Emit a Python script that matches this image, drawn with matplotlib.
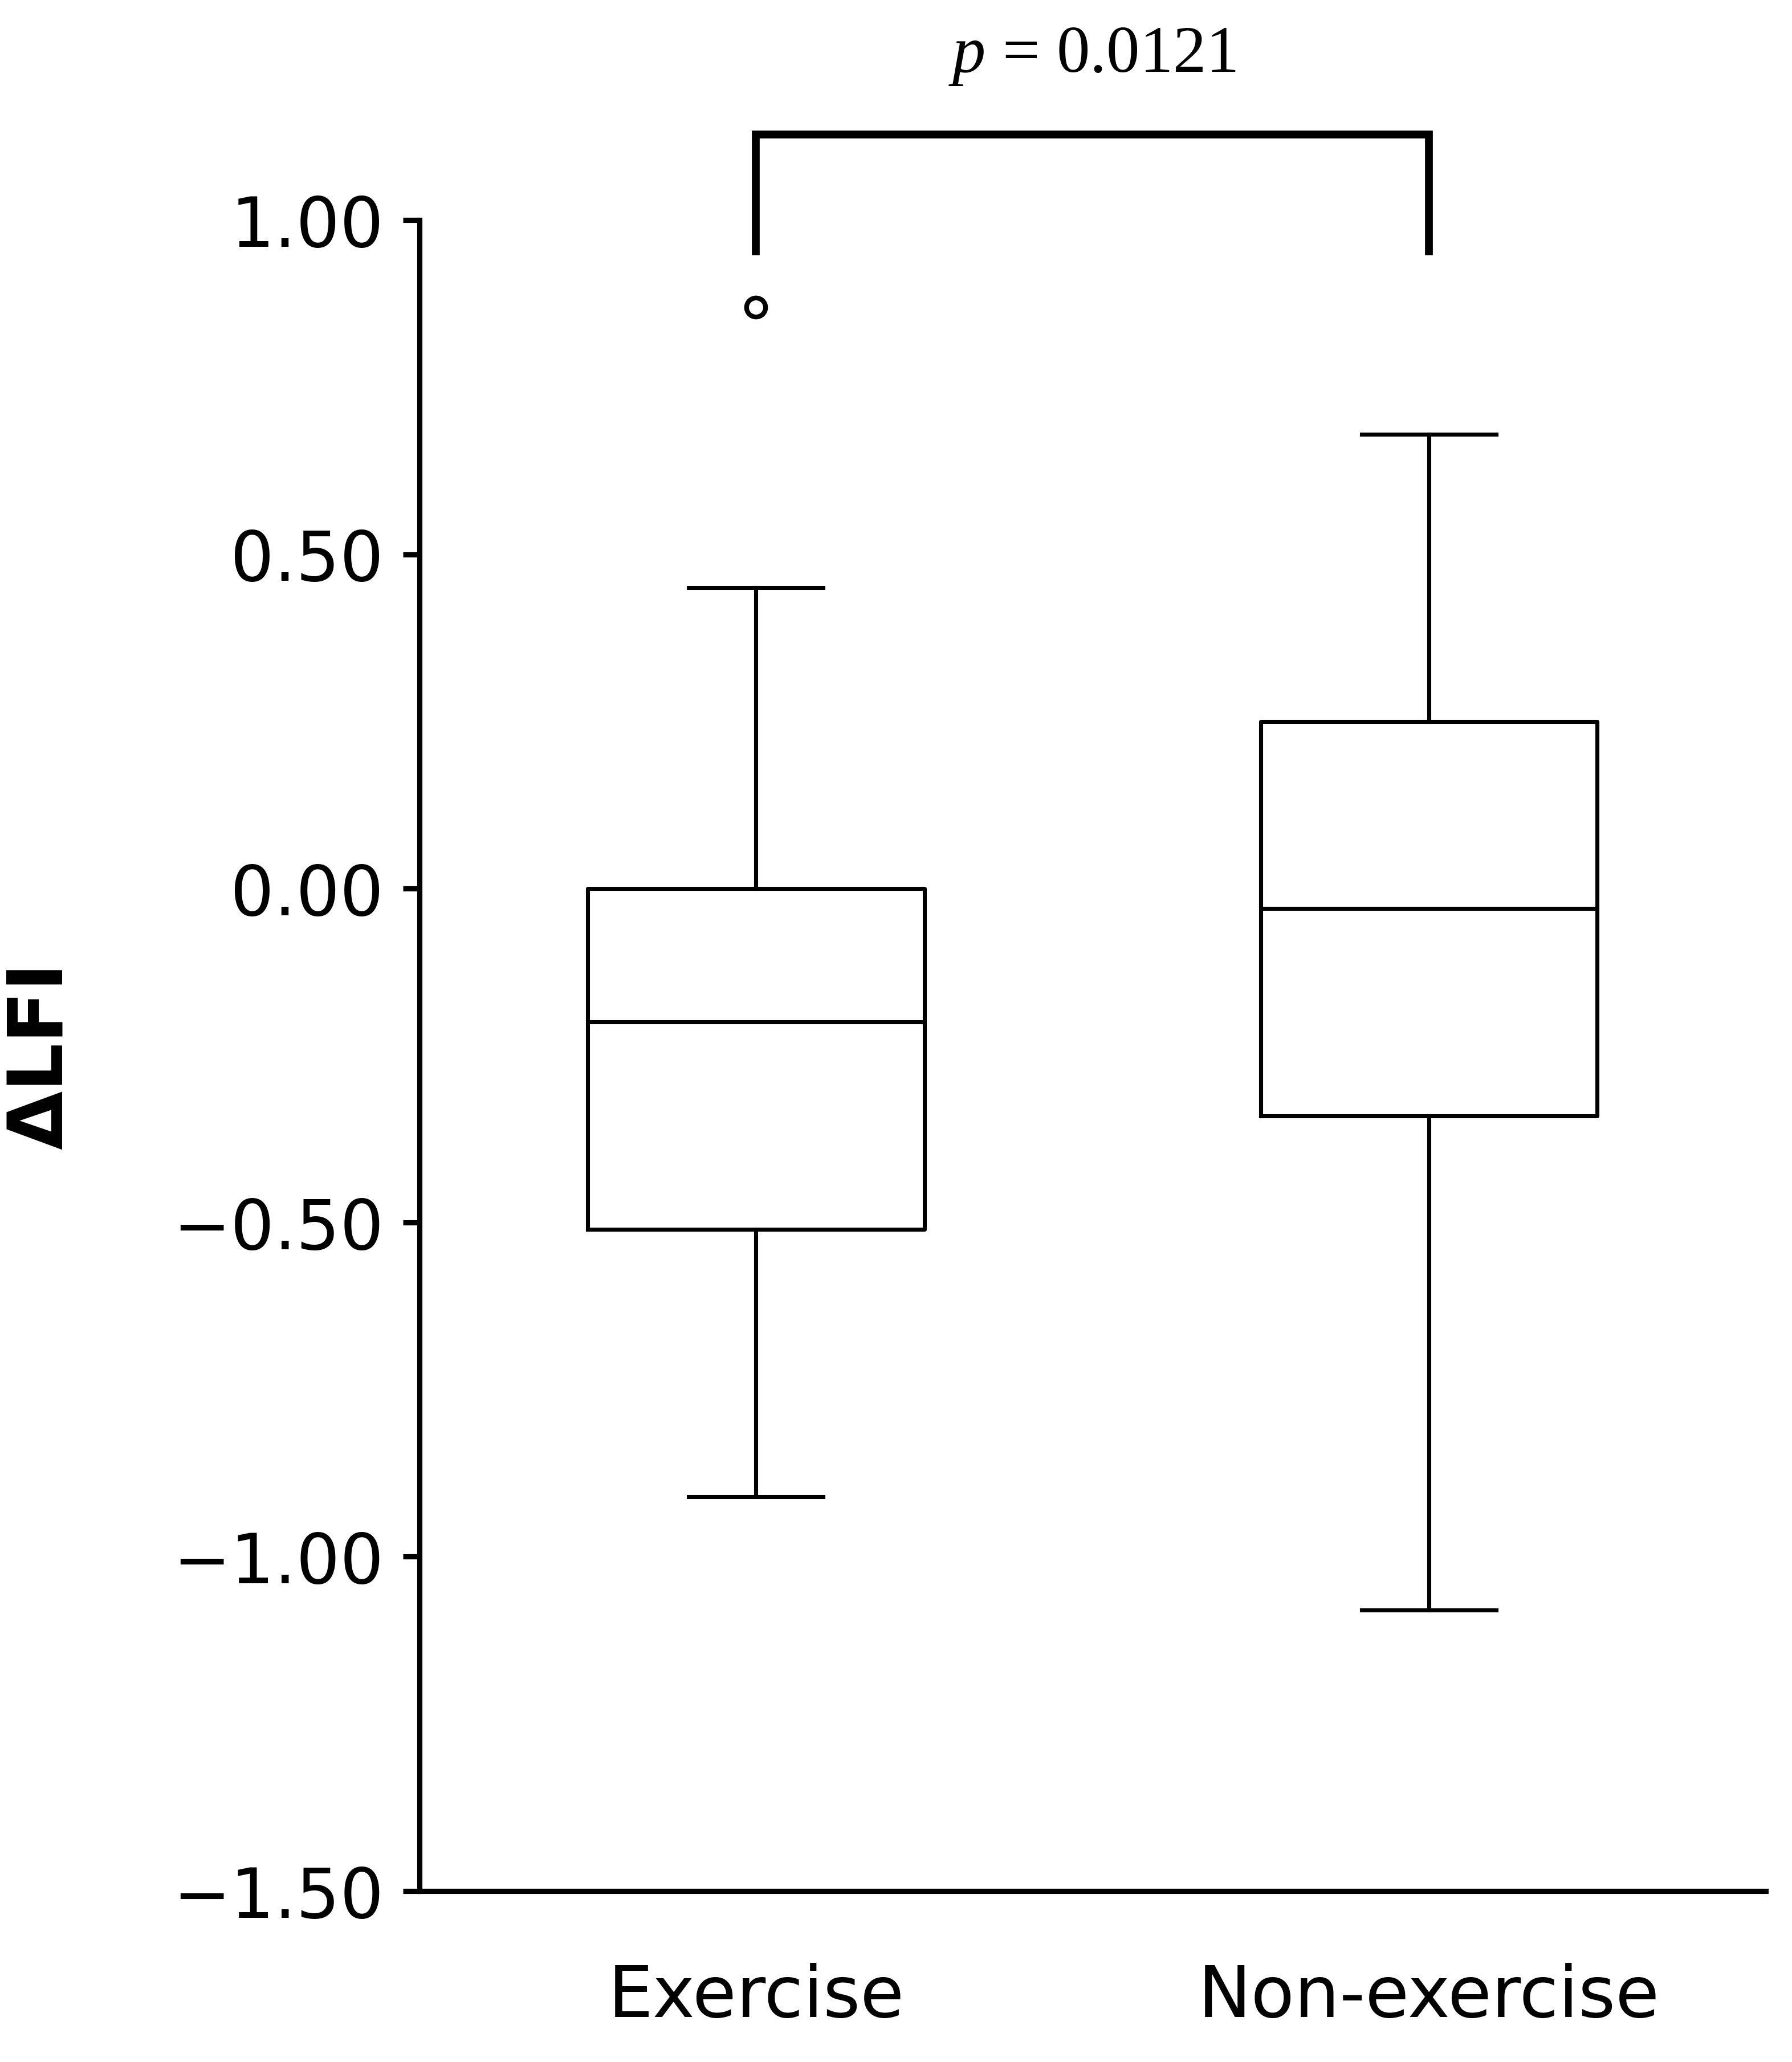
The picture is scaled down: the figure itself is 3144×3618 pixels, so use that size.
import matplotlib
matplotlib.use("Agg")
import matplotlib.pyplot as plt

plt.rcParams["mathtext.fontset"] = "custom"
plt.rcParams["mathtext.it"] = "Liberation Serif:italic"
plt.rcParams["mathtext.rm"] = "Liberation Serif"

groups = ["Exercise", "Non-exercise"]
whislo = [-0.91, -1.08]
q1 = [-0.51, -0.34]
med = [-0.20, -0.03]
q3 = [0.00, 0.25]
whishi = [0.45, 0.68]
fliers = [[0.87], []]
yticks = [1.00, 0.50, 0.00, -0.50, -1.00, -1.50]
p_text = "0.0121"

fig = plt.figure(figsize=(10.483, 12.063), dpi=300)
ax = fig.add_axes([0.234, 0.083, 0.751, 0.81])
stats = [dict(label=g, whislo=a, q1=b, med=c, q3=d, whishi=e, fliers=f)
         for g, a, b, c, d, e, f in zip(groups, whislo, q1, med, q3, whishi, fliers)]
lw = 1.7
ax.bxp(stats, positions=[1, 2], widths=0.5, capwidths=0.2,
       boxprops=dict(color="black", linewidth=lw),
       whiskerprops=dict(color="black", linewidth=lw),
       capprops=dict(color="black", linewidth=lw),
       medianprops=dict(color="black", linewidth=lw),
       flierprops=dict(marker="o", markerfacecolor="white", markeredgecolor="black",
                       markersize=8, markeredgewidth=2))
ax.set_xlim(0.5, 2.5)
ax.set_ylim(-1.5, 1.0)
ax.set_yticks(yticks)
ax.set_yticklabels([f"{v:.2f}".replace("-", "\u2212") for v in yticks])
for s in ["top", "right"]:
    ax.spines[s].set_visible(False)
for s in ["left", "bottom"]:
    ax.spines[s].set_linewidth(2.2)
ax.tick_params(axis="y", length=7, width=2.2, labelsize=29, pad=8)
ax.tick_params(axis="x", length=0, labelsize=30, pad=30)
ax.set_ylabel("ΔLFI", fontsize=32, fontweight="bold", labelpad=40)

ax.plot([1, 1, 2, 2], [0.953, 1.128, 1.128, 0.953], color="black", lw=3.3,
        clip_on=False, solid_joinstyle="miter")
ax.text(1.5, 1.2, "$p$ = " + p_text, ha="center", va="bottom", fontsize=28,
        family="Liberation Serif")
fig.savefig("out.png", dpi=300)
